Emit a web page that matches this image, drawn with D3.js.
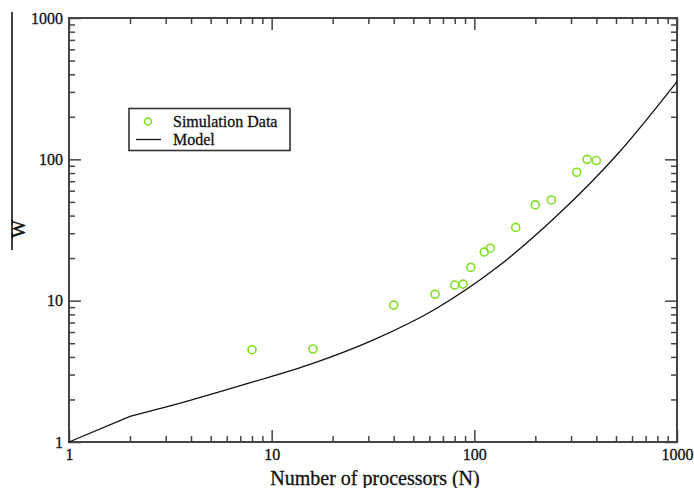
<!DOCTYPE html>
<html>
<head>
<meta charset="utf-8">
<script src="https://cdn.jsdelivr.net/npm/d3@7"></script>
<style>
  html, body { margin: 0; padding: 0; background: #fff; }
  svg { display: block; }
  text { font-family: "Liberation Serif", "DejaVu Serif", serif; fill: #111; }
</style>
</head>
<body>
<svg id="chart" width="694" height="488"></svg>
<script>
// ---- data ----
const simN = [8, 16, 40, 64, 80, 88, 96, 112, 120, 160, 200, 240, 320, 360, 400];
const simW = [4.5, 4.55, 9.3, 11.1, 12.9, 13.1, 17.2, 22.1, 23.5, 33, 47.6, 51.6, 81, 100, 98];

const modelN = [1, 2, 4, 8, 16, 32, 64, 128, 256, 512, 1000];
const modelW = [1, 1.52, 1.98, 2.65, 3.6, 5.3, 8.7, 17, 40, 110, 355];

const xMajor = [1, 10, 100, 1000];
const yMajor = [1, 10, 100, 1000];
const xLabels = ["1", "10", "100", "1000"];
const yLabels = ["1", "10", "100", "1000"];

const legendLabels = ["Simulation Data", "Model"];
const xTitle = "Number of processors (N)";
const yTitle = "W";

// ---- layout ----
const L = 69, R = 677, T = 18, B = 442;
const svg = d3.select("#chart");

const x = d3.scaleLog().domain([1, 1000]).range([L, R]);
const y = d3.scaleLog().domain([1, 1000]).range([B, T]);

function minors(majors) {
  const out = [];
  for (let i = 0; i < majors.length - 1; i++) {
    for (let k = 2; k <= 9; k++) out.push(majors[i] * k);
  }
  return out;
}
const xMinor = minors(xMajor);
const yMinor = minors(yMajor);

const axisColor = "#444";
function styleAxis(g) {
  g.select(".domain").remove();
  g.selectAll(".tick line").attr("stroke", axisColor).attr("stroke-width", 1.5);
  g.selectAll(".tick text").attr("font-family", "Liberation Serif, serif").attr("font-size", 16)
    .attr("fill", "#111").attr("stroke", "#111").attr("stroke-width", 0.3);
}

// bottom
svg.append("g").attr("transform", `translate(0,${B})`)
  .call(d3.axisBottom(x).tickValues(xMajor).tickFormat((d, i) => xLabels[i]).tickSizeInner(-12).tickSizeOuter(0).tickPadding(7))
  .call(styleAxis);
svg.append("g").attr("transform", `translate(0,${B})`)
  .call(d3.axisBottom(x).tickValues(xMinor).tickFormat("").tickSizeInner(-6).tickSizeOuter(0))
  .call(styleAxis);
// top
svg.append("g").attr("transform", `translate(0,${T})`)
  .call(d3.axisTop(x).tickValues(xMajor).tickFormat("").tickSizeInner(-12).tickSizeOuter(0))
  .call(styleAxis);
svg.append("g").attr("transform", `translate(0,${T})`)
  .call(d3.axisTop(x).tickValues(xMinor).tickFormat("").tickSizeInner(-6).tickSizeOuter(0))
  .call(styleAxis);
// left
svg.append("g").attr("transform", `translate(${L},0)`)
  .call(d3.axisLeft(y).tickValues(yMajor).tickFormat((d, i) => yLabels[i]).tickSizeInner(-12).tickSizeOuter(0).tickPadding(6))
  .call(styleAxis);
svg.append("g").attr("transform", `translate(${L},0)`)
  .call(d3.axisLeft(y).tickValues(yMinor).tickFormat("").tickSizeInner(-6).tickSizeOuter(0))
  .call(styleAxis);
// right
svg.append("g").attr("transform", `translate(${R},0)`)
  .call(d3.axisRight(y).tickValues(yMajor).tickFormat("").tickSizeInner(-12).tickSizeOuter(0))
  .call(styleAxis);
svg.append("g").attr("transform", `translate(${R},0)`)
  .call(d3.axisRight(y).tickValues(yMinor).tickFormat("").tickSizeInner(-6).tickSizeOuter(0))
  .call(styleAxis);

// frame
svg.append("rect").attr("x", L).attr("y", T).attr("width", R - L).attr("height", B - T)
  .attr("fill", "none").attr("stroke", axisColor).attr("stroke-width", 2);

// model line: straight first segment, smooth afterwards
const modelData = modelN.map((n, i) => [n, modelW[i]]);
const lineLin = d3.line().x(d => x(d[0])).y(d => y(d[1])).curve(d3.curveLinear);
const lineSmooth = d3.line().x(d => x(d[0])).y(d => y(d[1])).curve(d3.curveMonotoneX);
svg.append("path").datum(modelData.slice(0, 2))
  .attr("d", lineLin)
  .attr("fill", "none").attr("stroke", "#111").attr("stroke-width", 1.3);
svg.append("path").datum(modelData.slice(1))
  .attr("d", lineSmooth)
  .attr("fill", "none").attr("stroke", "#111").attr("stroke-width", 1.3);

// simulation points
const simData = simN.map((n, i) => [n, simW[i]]);
svg.append("g").selectAll("circle").data(simData).join("circle")
  .attr("cx", d => x(d[0])).attr("cy", d => y(d[1])).attr("r", 4)
  .attr("fill", "none").attr("stroke", "#7fe020").attr("stroke-width", 1.6);

// legend
const lg = svg.append("g");
lg.append("rect").attr("x", 129).attr("y", 108.5).attr("width", 161).attr("height", 42)
  .attr("fill", "#fff").attr("stroke", "#333").attr("stroke-width", 1.6);
lg.append("circle").attr("cx", 148).attr("cy", 121.5).attr("r", 3.5)
  .attr("fill", "none").attr("stroke", "#7fe020").attr("stroke-width", 1.6);
lg.append("line").attr("x1", 136).attr("x2", 161).attr("y1", 139.5).attr("y2", 139.5)
  .attr("stroke", "#111").attr("stroke-width", 1.3);
lg.append("text").attr("x", 173).attr("y", 127).attr("font-size", 16)
  .attr("stroke", "#111").attr("stroke-width", 0.3).text(legendLabels[0]);
lg.append("text").attr("x", 173).attr("y", 145).attr("font-size", 16)
  .attr("stroke", "#111").attr("stroke-width", 0.3).text(legendLabels[1]);

// axis titles
svg.append("text").attr("x", 375).attr("y", 485).attr("text-anchor", "middle")
  .attr("font-size", 20).attr("stroke", "#111").attr("stroke-width", 0.3).text(xTitle);
svg.append("text").attr("transform", "translate(25,229) rotate(-90)").attr("text-anchor", "middle")
  .attr("font-size", 19).attr("stroke", "#111").attr("stroke-width", 0.4).text(yTitle);
svg.append("line").attr("x1", 12).attr("x2", 12).attr("y1", 12).attr("y2", 250)
  .attr("stroke", "#000").attr("stroke-width", 1.5);
</script>
</body>
</html>
